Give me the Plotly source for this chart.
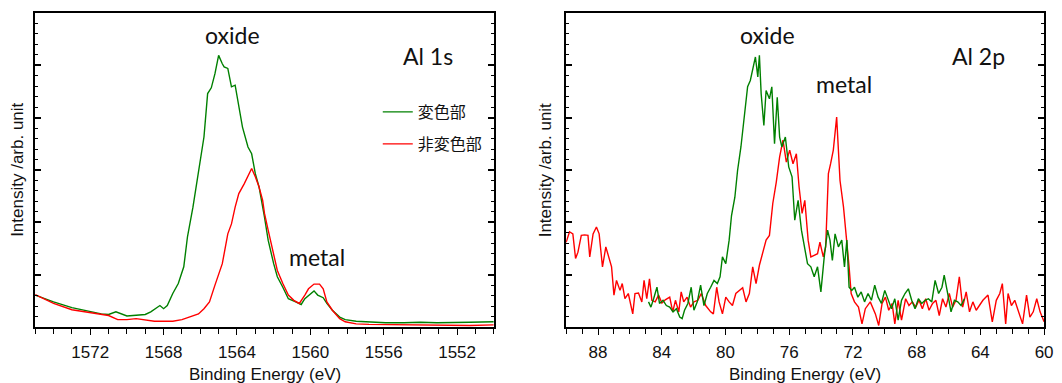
import plotly.graph_objects as go

W, H = 1062, 383

# ---------------- Al 1s ----------------
al1s_green_x = [1575.0, 1574.0, 1573.0, 1572.5, 1572.0, 1571.4, 1571.0, 1570.6, 1570.0, 1569.4,
                1569.0, 1568.7, 1568.2, 1568.0, 1567.8, 1567.5, 1567.2, 1566.9, 1566.7, 1566.4,
                1566.1, 1565.8, 1565.6, 1565.4, 1565.2, 1565.0, 1564.8, 1564.7, 1564.5, 1564.3,
                1564.1, 1563.9, 1563.7, 1563.4, 1563.2, 1563.0, 1562.8, 1562.5, 1562.3, 1562.0,
                1561.8, 1561.5, 1561.2, 1560.8, 1560.5, 1560.3, 1560.0, 1559.8, 1559.6, 1559.3,
                1559.1, 1558.8, 1558.4, 1558.1, 1557.5, 1556.8, 1555.9, 1554.9, 1554.0, 1553.1,
                1552.2, 1551.3, 1550.0]
al1s_green_y = [0.61, 0.48, 0.37, 0.33, 0.29, 0.25, 0.24, 0.29, 0.21, 0.22,
                0.24, 0.29, 0.41, 0.35, 0.41, 0.64, 0.83, 1.15, 1.72, 2.29,
                2.93, 3.63, 4.46, 4.57, 4.84, 5.19, 5.03, 4.97, 4.94, 4.59,
                4.62, 4.20, 3.82, 3.44, 3.31, 2.93, 2.68, 2.10, 1.66, 1.21,
                0.96, 0.76, 0.54, 0.48, 0.43, 0.54, 0.64, 0.69, 0.61, 0.56,
                0.45, 0.32, 0.19, 0.14, 0.11, 0.10, 0.08, 0.08, 0.09, 0.08,
                0.08, 0.09, 0.10]

al1s_red_x = [1575.0, 1574.0, 1573.0, 1572.0, 1571.0, 1570.5, 1570.0, 1569.5, 1569.0, 1568.5,
              1568.0, 1567.5, 1567.0, 1566.5, 1566.1, 1565.8, 1565.5, 1565.2, 1564.8, 1564.5,
              1564.3, 1564.1, 1563.9, 1563.6, 1563.4, 1563.2, 1563.0, 1562.8, 1562.6, 1562.5,
              1562.3, 1562.0, 1561.8, 1561.5, 1561.2, 1560.9, 1560.6, 1560.3, 1560.1, 1559.8,
              1559.5, 1559.3, 1559.1, 1558.8, 1558.4, 1558.1, 1557.5, 1556.8, 1554.9, 1553.1,
              1551.3, 1550.0]
al1s_red_y = [0.62, 0.45, 0.33, 0.27, 0.22, 0.14, 0.14, 0.16, 0.13, 0.11,
              0.11, 0.11, 0.14, 0.20, 0.25, 0.35, 0.48, 0.80, 1.21, 1.78,
              1.97, 2.29, 2.55, 2.74, 2.90, 3.03, 2.87, 2.68, 2.42, 2.17,
              1.85, 1.40, 1.08, 0.83, 0.61, 0.51, 0.45, 0.61, 0.73, 0.82,
              0.82, 0.73, 0.48, 0.32, 0.16, 0.10, 0.06, 0.05, 0.04, 0.03,
              0.03, 0.04]

# ---------------- Al 2p ----------------
al2p_red_x = [90.0, 89.79, 89.58, 89.41, 89.26, 89.05, 88.84, 88.63, 88.52, 88.31,
              88.10, 87.93, 87.72, 87.51, 87.30, 87.15, 87.00, 86.84, 86.62, 86.48,
              86.31, 86.10, 85.82, 85.68, 85.46, 85.25, 85.11, 84.94, 84.77, 84.62,
              84.41, 84.20, 83.99, 83.78, 83.50, 83.31, 83.14, 82.93, 82.78, 82.62,
              82.41, 82.19, 81.98, 81.73, 81.52, 81.24, 80.93, 80.76, 80.55, 80.40,
              80.19, 79.98, 79.77, 79.56, 79.35, 79.14, 78.92, 78.71, 78.50, 78.29,
              78.08, 77.87, 77.66, 77.45, 77.24, 77.03, 76.81, 76.60, 76.39, 76.18,
              75.97, 75.76, 75.55, 75.38, 75.19, 75.02, 74.81, 74.64, 74.43, 74.22,
              74.07, 73.86, 73.71, 73.54, 73.40, 73.23, 73.02, 72.81, 72.59, 72.38,
              72.24, 72.11, 71.90, 71.65, 71.43, 71.22, 70.91, 70.59, 70.38, 70.17,
              69.96, 69.75, 69.54, 69.37, 69.16, 68.95, 68.69, 68.48, 68.27, 68.06,
              67.85, 67.64, 67.43, 67.22, 67.00, 66.79, 66.58, 66.37, 66.16, 65.95,
              65.74, 65.53, 65.32, 65.11, 64.89, 64.68, 64.47, 64.26, 64.05, 63.84,
              63.52, 63.25, 63.00, 62.78, 62.62, 62.41, 62.26, 62.05, 61.84, 61.62,
              61.35, 61.10, 60.89, 60.68, 60.46, 60.25, 60.00]
al2p_red_y = [1.62, 1.82, 1.78, 1.31, 1.43, 1.75, 1.76, 1.75, 1.34, 1.78,
              1.91, 1.78, 1.15, 1.53, 1.31, 1.15, 0.61, 0.89, 0.70, 0.83,
              0.54, 0.64, 0.25, 0.64, 0.65, 0.48, 0.89, 0.54, 0.92, 0.51,
              0.48, 0.61, 0.46, 0.52, 0.57, 0.29, 0.51, 0.29, 0.67, 0.48,
              0.57, 0.38, 0.48, 0.51, 0.64, 0.41, 0.29, 0.25, 0.76, 0.48,
              0.25, 0.57, 0.48, 0.41, 0.64, 0.70, 0.75, 0.48, 0.64, 1.15,
              0.83, 1.18, 1.40, 1.66, 1.75, 2.36, 2.77, 3.25, 3.57, 3.15,
              3.38, 3.12, 3.31, 2.68, 2.17, 2.42, 1.66, 1.34, 1.37, 1.40,
              1.62, 1.34, 1.53, 2.93, 3.12, 3.38, 4.01, 2.80, 2.29, 1.66,
              1.15, 0.64, 0.48, 0.38, 0.06, 0.35, 0.48, 0.25, 0.03, 0.45,
              0.57, 0.32, 0.45, 0.06, 0.51, 0.13, 0.54, 0.41, 0.48, 0.38,
              0.51, 0.35, 0.54, 0.32, 0.45, 0.51, 0.22, 0.54, 0.38, 0.64,
              0.38, 0.51, 0.96, 0.38, 0.67, 0.29, 0.48, 0.32, 0.41, 0.51,
              0.61, 0.10, 0.51, 0.64, 0.83, 0.06, 0.64, 0.41, 0.51, 0.29,
              0.06, 0.61, 0.19, 0.29, 0.54, 0.29, 0.10]

al2p_green_x = [84.83, 84.68, 84.51, 84.30, 84.14, 83.92, 83.71, 83.50, 83.29, 83.08,
                82.87, 82.72, 82.57, 82.36, 82.15, 81.98, 81.77, 81.56, 81.35, 81.14,
                80.93, 80.72, 80.51, 80.34, 80.19, 79.98, 79.77, 79.62, 79.41, 79.24,
                79.03, 78.82, 78.61, 78.44, 78.29, 78.12, 77.97, 77.87, 77.76, 77.59,
                77.45, 77.24, 77.09, 76.92, 76.75, 76.60, 76.46, 76.24, 76.03, 75.82,
                75.65, 75.44, 75.23, 75.06, 74.85, 74.64, 74.43, 74.22, 74.01, 73.80,
                73.59, 73.44, 73.29, 73.12, 72.91, 72.70, 72.53, 72.38, 72.24, 72.07,
                71.90, 71.69, 71.48, 71.27, 71.05, 70.84, 70.63, 70.42, 70.21, 70.00,
                69.79, 69.58, 69.37, 69.16, 68.95, 68.73, 68.52, 68.31, 68.10, 67.89,
                67.68, 67.47, 67.26, 67.05, 66.84, 66.62, 66.41, 66.27, 66.05, 65.84,
                65.63, 65.42, 65.21, 65.00]
al2p_green_y = [0.48, 0.38, 0.54, 0.76, 0.45, 0.51, 0.41, 0.38, 0.29, 0.35,
                0.19, 0.16, 0.32, 0.45, 0.76, 0.32, 0.48, 0.80, 0.41, 0.64,
                0.76, 0.89, 0.83, 0.96, 1.34, 1.21, 1.66, 2.13, 2.48, 2.99,
                3.44, 4.08, 4.59, 4.71, 4.94, 5.16, 4.78, 5.19, 4.46, 3.85,
                4.52, 4.36, 4.59, 3.50, 4.39, 3.63, 3.44, 3.63, 3.06, 2.87,
                2.04, 2.42, 1.85, 1.53, 1.21, 1.15, 0.96, 1.15, 0.67, 1.34,
                1.85, 1.66, 1.27, 1.78, 1.53, 1.66, 1.15, 1.66, 0.76, 0.70,
                0.76, 0.57, 0.67, 0.48, 0.64, 0.51, 0.80, 0.57, 0.45, 0.70,
                0.51, 0.35, 0.54, 0.13, 0.51, 0.64, 0.73, 0.51, 0.35, 0.54,
                0.45, 0.51, 0.54, 0.48, 0.89, 0.64, 0.76, 0.99, 0.64, 0.29,
                0.51, 0.48, 0.41, 0.54]

series_names = ["変色部", "非変色部"]
x_ticks_1s = [1572, 1568, 1564, 1560, 1556, 1552]
x_ticks_2p = [88, 84, 80, 76, 72, 68, 64, 60]

GREEN = "#008000"
RED = "#ff0000"


def px(x):
    return x / W


def py(y):
    return 1 - y / H


fig = go.Figure()
fig.add_trace(go.Scatter(x=al1s_green_x, y=al1s_green_y, mode="lines", name=series_names[0],
                         line=dict(color=GREEN, width=1.4), xaxis="x", yaxis="y", legend="legend"))
fig.add_trace(go.Scatter(x=al1s_red_x, y=al1s_red_y, mode="lines", name=series_names[1],
                         line=dict(color=RED, width=1.4), xaxis="x", yaxis="y", legend="legend2"))
fig.add_trace(go.Scatter(x=al2p_red_x, y=al2p_red_y, mode="lines", name=series_names[1],
                         line=dict(color=RED, width=1.4), xaxis="x2", yaxis="y2", showlegend=False))
fig.add_trace(go.Scatter(x=al2p_green_x, y=al2p_green_y, mode="lines", name=series_names[0],
                         line=dict(color=GREEN, width=1.4), xaxis="x2", yaxis="y2", showlegend=False))

tickfont = dict(family="Liberation Sans, Arial", size=17, color="#111")

xcommon = dict(showline=True, linecolor="black", linewidth=1.5, mirror=True,
               ticks="outside", ticklen=6, tickwidth=1.2, tickcolor="black",
               showgrid=False, zeroline=False, tickfont=tickfont, ticklabelstandoff=3,
               ticklabeloverflow="allow",
               minor=dict(dtick=1, ticks="outside", ticklen=5, tickwidth=1.2, tickcolor="black", showgrid=False))
ycommon = dict(showline=True, linecolor="black", linewidth=1.5, mirror="ticks",
               ticks="inside", ticklen=6, tickwidth=1.5, tickcolor="black",
               showgrid=False, zeroline=False, showticklabels=False,
               range=[0, 6], dtick=1, tick0=0,
               minor=dict(dtick=0.2, ticks="inside", ticklen=3, tickwidth=1.2, tickcolor="black", showgrid=False))

ytop, ybot = py(13), py(327)
legfont = dict(family="Noto Sans CJK JP", size=16, color="#111")
fig.update_layout(
    width=W, height=H,
    margin=dict(l=0, r=0, t=0, b=0),
    paper_bgcolor="white", plot_bgcolor="white",
    xaxis=dict(domain=[px(35.5), px(498)], range=[1575, 1550], anchor="y",
               tickvals=x_ticks_1s, **xcommon),
    yaxis=dict(domain=[ybot, ytop], anchor="x", **ycommon),
    xaxis2=dict(domain=[px(571), px(1053)], range=[90, 60], anchor="y2",
                tickvals=x_ticks_2p, **xcommon),
    yaxis2=dict(domain=[ybot, ytop], anchor="x2", **ycommon),
    legend=dict(x=px(381), y=py(95), xanchor="left", yanchor="top",
                bgcolor="rgba(0,0,0,0)", font=legfont),
    legend2=dict(x=px(381), y=py(127), xanchor="left", yanchor="top",
                 bgcolor="rgba(0,0,0,0)", font=legfont),
    showlegend=True,
)

labfont = dict(family="Lato", size=23, color="#111")
annots = [
    ("oxide", 234, 35), ("Al 1s", 432, 56), ("metal", 320, 257),
    ("oxide", 774, 35), ("Al 2p", 987, 56), ("metal", 851, 84),
]
for t, x, y in annots:
    fig.add_annotation(text=t, x=px(x), y=py(y), xref="paper", yref="paper",
                       showarrow=False, xanchor="center", yanchor="middle", font=labfont)

titlefont = dict(family="Liberation Sans, Arial", size=17, color="#111")
for x in (17, 550):
    fig.add_annotation(text="Intensity /arb. unit", x=px(x), y=py(170), xref="paper", yref="paper",
                       showarrow=False, textangle=-90, xanchor="center", yanchor="middle", font=titlefont)
for x in (267, 812):
    fig.add_annotation(text="Binding Energy (eV)", x=px(x), y=py(374), xref="paper", yref="paper",
                       showarrow=False, xanchor="center", yanchor="middle", font=titlefont)

fig.write_html("out.html", config={"displayModeBar": False},
               post_script="document.body.style.margin='0';")
